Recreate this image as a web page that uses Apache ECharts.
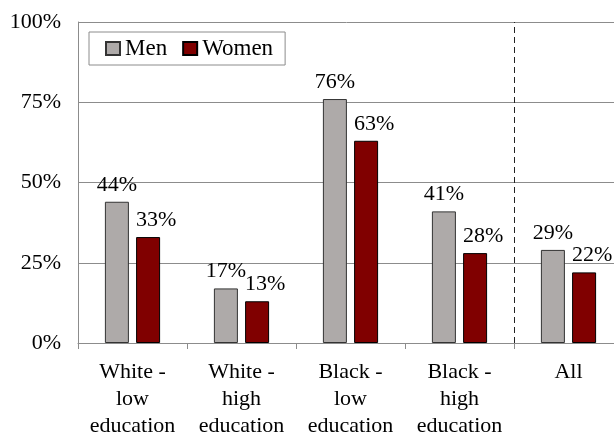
<!DOCTYPE html>
<html><head><meta charset="utf-8">
<script src="https://cdn.jsdelivr.net/npm/echarts@6/dist/echarts.min.js"></script>
<style>html,body{margin:0;padding:0;background:#fff}#c{width:614px;height:434px}</style>
</head><body><div id="c"></div>
<script>
var categories = ["White -\nlow\neducation", "White -\nhigh\neducation", "Black -\nlow\neducation", "Black -\nhigh\neducation", "All"];
var men = [44, 17, 76, 41, 29];
var women = [33, 13, 63, 28, 22];
var yTicks = [0, 25, 50, 75, 100];
var separatorPos = 4; // boundary between 4th and 5th category

var FONT = "Liberation Serif";
var chart = echarts.init(document.getElementById('c'), null, {renderer: 'canvas'});
chart.setOption({
  animation: false,
  backgroundColor: '#fff',
  textStyle: {fontFamily: FONT, color: '#000'},
  legend: {
    left: 89, top: 32,
    padding: [5, 12, 5, 16],
    borderColor: '#8c8c8c', borderWidth: 1,
    itemWidth: 14, itemHeight: 13, itemGap: 15,
    icon: 'rect',
    textStyle: {fontFamily: FONT, fontSize: 23, color: '#000', padding: [0, 0, 0, 0]},
    data: ['Men', 'Women']
  },
  grid: {left: 78, top: 22, width: 545, height: 321, outerBoundsMode: 'none', containLabel: false},
  xAxis: [{
    type: 'category',
    data: categories,
    boundaryGap: true,
    axisLine: {lineStyle: {color: '#8c8c8c', width: 1}},
    axisTick: {show: true, length: 6, lineStyle: {color: '#8c8c8c'}},
    axisLabel: {fontFamily: FONT, fontSize: 22, color: '#000', lineHeight: 27, margin: 16, interval: 0},
    splitLine: {show: false}
  }, {
    type: 'value', min: 0, max: categories.length, show: false,
    position: 'bottom'
  }],
  yAxis: {
    type: 'value', min: yTicks[0], max: yTicks[yTicks.length - 1], interval: 25,
    axisLine: {show: true, lineStyle: {color: '#8c8c8c'}},
    axisTick: {show: false},
    axisLabel: {fontFamily: FONT, fontSize: 22, color: '#000', margin: 17, formatter: '{value}%'},
    splitLine: {lineStyle: {color: '#8c8c8c', width: 1}}
  },
  series: [
    {
      name: 'Men', type: 'bar', data: men, barWidth: 24, barGap: '30%',
      itemStyle: {color: '#aeaaa9', borderColor: '#333', borderWidth: 1},
      label: {show: true, position: 'top', distance: 6, fontFamily: FONT, fontSize: 22, color: '#000', formatter: '{c}%'}
    },
    {
      name: 'Women', type: 'bar', data: women, barWidth: 24,
      itemStyle: {color: '#800000', borderColor: '#000', borderWidth: 1},
      label: {show: true, position: 'top', distance: 6, offset: [8, 0], fontFamily: FONT, fontSize: 22, color: '#000', formatter: '{c}%'}
    },
    {
      name: 'sep', type: 'line', xAxisIndex: 1, data: [[separatorPos, 0]],
      showSymbol: false, symbolSize: 0, lineStyle: {opacity: 0}, silent: true,
      markLine: {
        silent: true, symbol: 'none', animation: false,
        label: {show: false},
        lineStyle: {color: '#222', type: [6, 4], width: 1},
        data: [{xAxis: separatorPos}]
      }
    }
  ]
});
</script></body></html>
